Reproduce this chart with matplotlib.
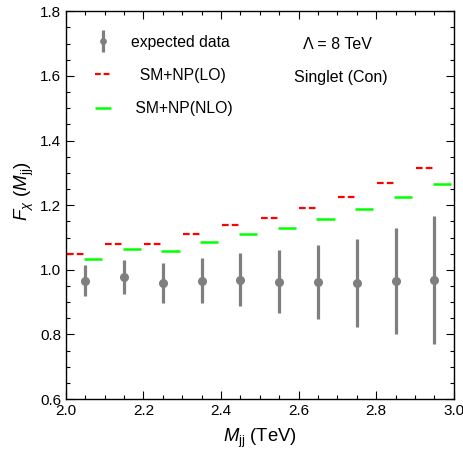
import numpy as np
import matplotlib.pyplot as plt
from matplotlib.lines import Line2D
from matplotlib.legend_handler import HandlerErrorbar
from matplotlib.ticker import MultipleLocator

plt.rcParams['font.family'] = ['Liberation Sans', 'DejaVu Sans']
plt.rcParams['mathtext.fontset'] = 'custom'
plt.rcParams['mathtext.rm'] = 'Liberation Sans'
plt.rcParams['mathtext.it'] = 'Liberation Sans:italic'

# bins in M_jj (TeV)
bin_lo = [2.0, 2.1, 2.2, 2.3, 2.4, 2.5, 2.6, 2.7, 2.8, 2.9]
bin_center = [2.05, 2.15, 2.25, 2.35, 2.45, 2.55, 2.65, 2.75, 2.85, 2.95]

# expected data with errors
data_val = [0.966, 0.978, 0.959, 0.967, 0.970, 0.963, 0.963, 0.959, 0.967, 0.969]
data_err = [0.048, 0.054, 0.061, 0.070, 0.083, 0.097, 0.115, 0.137, 0.164, 0.198]

# predictions
lo_val = [1.049, 1.079, 1.079, 1.110, 1.140, 1.160, 1.191, 1.226, 1.269, 1.314]
nlo_val = [1.035, 1.063, 1.059, 1.086, 1.112, 1.130, 1.157, 1.187, 1.226, 1.266]

grey = '#7f7f7f'
red = '#ff0000'
green = '#00ff00'

fig = plt.figure(figsize=(4.64, 4.50), dpi=100)
ax = fig.add_axes([0.142, 0.113, 0.836, 0.862])

for lo, v_lo, v_nlo in zip(bin_lo, lo_val, nlo_val):
    ax.plot([lo + 0.002, lo + 0.046], [v_lo, v_lo], color=red, lw=1.6,
            dashes=(3.0, 1.4), solid_capstyle='butt', dash_capstyle='butt')
    ax.plot([lo + 0.046, lo + 0.093], [v_nlo, v_nlo], color=green, lw=1.8,
            solid_capstyle='butt')

eb = ax.errorbar(bin_center, data_val, yerr=data_err, fmt='o', color=grey,
                 ms=5.5, elinewidth=2.3, capsize=0)

# legend, labels padded so they sit roughly centred like the original
h_lo = Line2D([], [], color=red, lw=1.6, dashes=(2.6, 1.3), dash_capstyle='butt')
h_nlo = Line2D([], [], color=green, lw=1.8, solid_capstyle='butt')
leg = ax.legend([eb, h_lo, h_nlo], ['expected data', '  SM+NP(LO)', ' SM+NP(NLO)'],
                loc='upper left', bbox_to_anchor=(0.067, 0.948), frameon=False,
                fontsize=11.3, handlelength=1.02, handletextpad=1.27,
                labelspacing=1.17, borderpad=0.2, borderaxespad=0,
                markerscale=0.7,
                handler_map={type(eb): HandlerErrorbar(yerr_size=0.68)})

ax.text(0.70, 0.915, 'Λ = 8 TeV', transform=ax.transAxes,
        ha='center', va='center', fontsize=11.5)
ax.text(0.71, 0.83, 'Singlet (Con)', transform=ax.transAxes,
        ha='center', va='center', fontsize=11.5)

ax.set_xlim(2.0, 3.0)
ax.set_ylim(0.6, 1.8)
ax.xaxis.set_major_locator(MultipleLocator(0.2))
ax.xaxis.set_minor_locator(MultipleLocator(0.05))
ax.yaxis.set_major_locator(MultipleLocator(0.2))
ax.yaxis.set_minor_locator(MultipleLocator(0.05))
ax.xaxis.set_major_formatter(plt.FormatStrFormatter('%.1f'))
ax.yaxis.set_major_formatter(plt.FormatStrFormatter('%.1f'))
ax.tick_params(which='both', direction='in', top=True, right=True, labelsize=11,
               width=0.8)
ax.tick_params(which='major', length=5.5)
ax.tick_params(which='minor', length=3)
for s in ax.spines.values():
    s.set_linewidth(1.0)

ax.set_xlabel(r'$M_{\rm jj}$ (TeV)', fontsize=13.3, labelpad=6)
ax.set_ylabel(r'$F_{\chi}$ $(M_{\rm jj})$', fontsize=13.5)
ax.yaxis.set_label_coords(-0.078, 0.536)

fig.savefig('out.png', dpi=100)
